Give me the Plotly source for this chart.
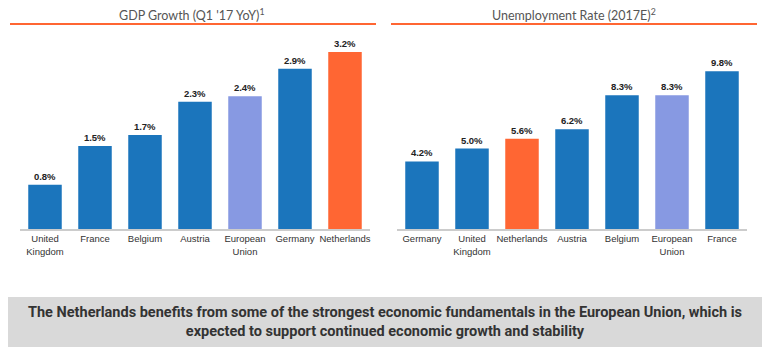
import plotly.graph_objects as go

gdp_countries = ["United<br>Kingdom", "France", "Belgium", "Austria", "European<br>Union", "Germany", "Netherlands"]
gdp_values = [0.8, 1.5, 1.7, 2.3, 2.4, 2.9, 3.2]
unemp_countries = ["Germany", "United<br>Kingdom", "Netherlands", "Austria", "Belgium", "European<br>Union", "France"]
unemp_values = [4.2, 5.0, 5.6, 6.2, 8.3, 8.3, 9.8]

BLUE = "#1B75BC"
LIGHT = "#8799E2"
ORANGE = "#FF6633"

def colors(cats):
    out = []
    for c in cats:
        if c == "Netherlands":
            out.append(ORANGE)
        elif c.startswith("European"):
            out.append(LIGHT)
        else:
            out.append(BLUE)
    return out

W, H = 768, 351
y_bot = (H - 229) / H
y_top = (H - 40) / H

fig = go.Figure()
fig.add_trace(go.Bar(
    x=gdp_countries, y=gdp_values, marker=dict(color=colors(gdp_countries), line=dict(width=0)),
    text=[f"{v:.1f}%" for v in gdp_values], textposition="outside", cliponaxis=False,
    textfont=dict(family="Liberation Sans, Arial", size=9.5, color="#222"),
    xaxis="x", yaxis="y", hoverinfo="skip"))
fig.add_trace(go.Bar(
    x=unemp_countries, y=unemp_values, marker=dict(color=colors(unemp_countries), line=dict(width=0)),
    text=[f"{v:.1f}%" for v in unemp_values], textposition="outside", cliponaxis=False,
    textfont=dict(family="Liberation Sans, Arial", size=9.5, color="#222"),
    xaxis="x2", yaxis="y2", hoverinfo="skip"))

fig.update_traces(texttemplate="<b>%{text}</b>")

axis_common = dict(showgrid=False, zeroline=False, showline=True, linecolor="#cccccc", linewidth=2,
                   ticks="", tickfont=dict(family="Liberation Sans, Arial", size=9.5, color="#333"),
                   fixedrange=True)
fig.update_layout(
    width=W, height=H, margin=dict(l=0, r=0, t=0, b=0),
    paper_bgcolor="white", plot_bgcolor="white", showlegend=False, bargap=0.33,
    xaxis=dict(domain=[20 / W, 370 / W], anchor="y", **axis_common),
    xaxis2=dict(domain=[397 / W, 747 / W], anchor="y2", **axis_common),
    yaxis=dict(domain=[y_bot, y_top], range=[0, 189 / 55.3], visible=False, anchor="x"),
    yaxis2=dict(domain=[y_bot, y_top], range=[0, 189 / 16.1], visible=False, anchor="x2"),
)

title_font = dict(family="Lato, Open Sans", size=12.5, color="#555")
fig.add_annotation(x=192 / W, y=(H - 15) / H, xref="paper", yref="paper", text="GDP Growth (Q1 '17 YoY)<sup>1</sup>",
                   showarrow=False, font=title_font, xanchor="center", yanchor="middle")
fig.add_annotation(x=574 / W, y=(H - 15) / H, xref="paper", yref="paper", text="Unemployment Rate (2017E)<sup>2</sup>",
                   showarrow=False, font=title_font, xanchor="center", yanchor="middle")
for x0, x1 in [(10, 376), (391, 757)]:
    fig.add_shape(type="line", xref="paper", yref="paper", x0=x0 / W, x1=x1 / W, y0=(H - 24) / H, y1=(H - 24) / H,
                  line=dict(color=ORANGE, width=2))

fig.add_shape(type="rect", xref="paper", yref="paper", x0=8 / W, x1=762 / W, y0=(H - 347) / H, y1=(H - 297) / H,
              fillcolor="#d9d9d9", line=dict(width=0), layer="below")
fig.add_annotation(x=385 / W, y=(H - 322) / H, xref="paper", yref="paper",
                   text="<b>The Netherlands benefits from some of the strongest economic fundamentals in the European Union, which is<br>expected to support continued economic growth and stability</b>",
                   showarrow=False, align="center", font=dict(family="Roboto", size=14.5, color="#333"),
                   xanchor="center", yanchor="middle")

fig.write_html("out.html")
